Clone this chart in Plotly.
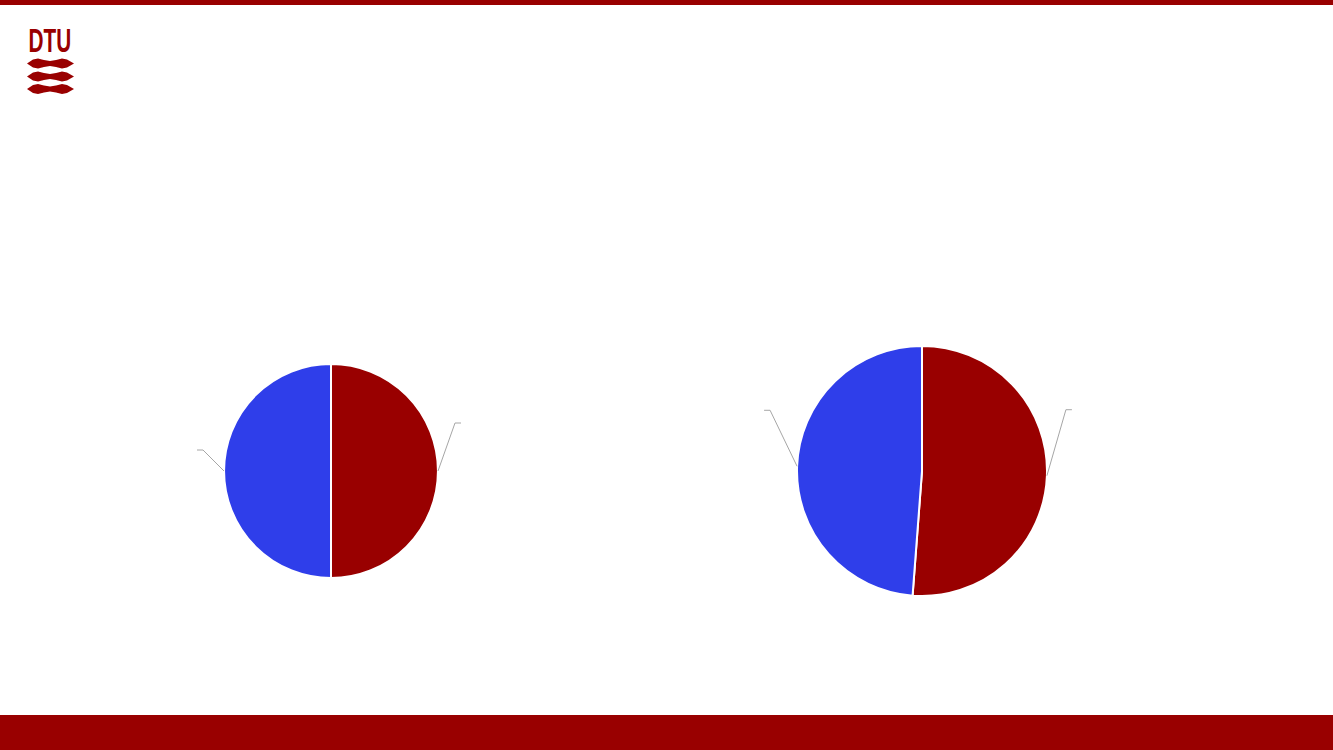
import math
import plotly.graph_objects as go

W, H = 1333, 750
DTU_RED = "#990000"
DTU_BLUE = "#2F3EEA"

# data
slice_names = ["Kategori A", "Kategori B"]
left_values = [50.0, 50.0]
right_values = [51.2, 48.8]
slice_colors = [DTU_RED, DTU_BLUE]

# pie placement in pixels (center x, center y from top, radius)
pies = [
    dict(values=left_values, cx=331, cy=471, r=107,
         label_offsets=[(17, 48), (-21, 21)]),
    dict(values=right_values, cx=922, cy=471, r=125,
         label_offsets=[(19, 66), (-27, 56)]),
]


def px(x):
    return x / W


def py(y):
    return 1 - y / H


fig = go.Figure()
shapes = []

for p in pies:
    fig.add_trace(go.Pie(
        labels=slice_names,
        values=p["values"],
        sort=False,
        direction="clockwise",
        rotation=0,
        textinfo="none",
        hoverinfo="label+percent",
        marker=dict(colors=slice_colors, line=dict(color="white", width=2)),
        domain=dict(x=[px(p["cx"] - p["r"]), px(p["cx"] + p["r"])],
                    y=[py(p["cy"] + p["r"]), py(p["cy"] - p["r"])]),
        showlegend=False,
    ))

    # leader lines to the (empty) data labels
    total = sum(p["values"])
    start = 0.0
    for v, (dx, dy) in zip(p["values"], p["label_offsets"]):
        mid = (start + v / 2) / total * 2 * math.pi
        start += v
        ex = p["cx"] + p["r"] * math.sin(mid)
        ey = p["cy"] - p["r"] * math.cos(mid)
        kx, ky = ex + dx, ey - dy
        tx = kx + (6 if dx > 0 else -6)
        shapes.append(dict(
            type="path", xref="paper", yref="paper",
            path=f"M {px(ex)} {py(ey)} L {px(kx)} {py(ky)} L {px(tx)} {py(ky)}",
            line=dict(color="#A6A6A6", width=1),
        ))

# slide frame: top rule and bottom band
shapes.append(dict(type="rect", xref="paper", yref="paper",
                   x0=0, x1=1, y0=py(5), y1=1,
                   fillcolor=DTU_RED, line=dict(width=0)))
shapes.append(dict(type="rect", xref="paper", yref="paper",
                   x0=0, x1=1, y0=0, y1=py(715),
                   fillcolor=DTU_RED, line=dict(width=0)))

# DTU logo waves
for wy in [63.5, 76.5, 89]:
    pts = [(27, wy), (33, wy - 4), (38, wy - 5), (44, wy - 3.5), (50, wy - 2.5),
           (56, wy - 3.5), (62, wy - 5), (67, wy - 4), (74, wy),
           (67, wy + 4), (62, wy + 5), (56, wy + 3.5), (50, wy + 2.5),
           (44, wy + 3.5), (38, wy + 5), (33, wy + 4)]
    path = "M " + " L ".join(f"{px(x)} {py(y)}" for x, y in pts) + " Z"
    shapes.append(dict(type="path", xref="paper", yref="paper", path=path,
                       fillcolor=DTU_RED, line=dict(width=0)))

fig.update_layout(
    width=W,
    height=H,
    margin=dict(l=0, r=0, t=0, b=0),
    paper_bgcolor="white",
    plot_bgcolor="white",
    shapes=shapes,
    annotations=[dict(
        text="<b>DTU</b>", x=px(50), y=py(40), xref="paper", yref="paper",
        showarrow=False, xanchor="center", yanchor="middle",
        font=dict(family="Liberation Sans, Arial", size=33, color=DTU_RED),
    )],
)

# no page margin, and squeeze the logo text into a condensed shape
js = """
document.body.style.margin = '0';
document.querySelectorAll('g.annotation-text-g text').forEach(function (t) {
    t.style.transformBox = 'fill-box';
    t.style.transformOrigin = 'center';
    t.style.transform = 'scaleX(0.63)';
});
"""
fig.write_html("out.html", post_script=js, config={"displayModeBar": False})
